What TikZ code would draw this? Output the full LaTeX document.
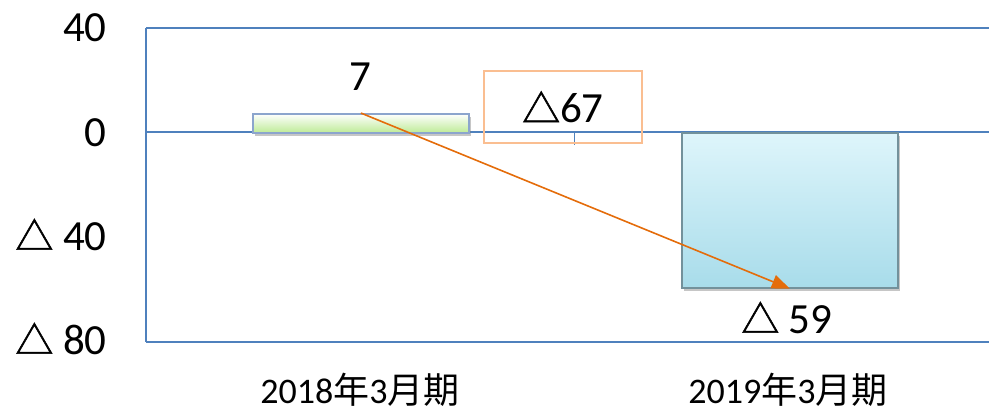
\documentclass[tikz,border=0pt]{standalone}
\usepackage{fontspec}
\setmainfont{Carlito}
\newfontfamily\cjk{Noto Sans CJK JP}
\newfontfamily\trifont[Scale=0.88,FakeBold=1.5]{Noto Sans CJK JP}
\newcommand\tri{{\trifont △}}
\usepackage{tikz}
\usetikzlibrary{positioning}
\usetikzlibrary{arrows.meta}
\usetikzlibrary{shadows}
\definecolor{gridblue}{RGB}{79,129,189}
\definecolor{arroworange}{RGB}{228,108,10}
\definecolor{boxorange}{RGB}{250,190,145}

\begin{document}
\begin{tikzpicture}
      [x=0.5pt,y=-0.5pt,
       grid/.style={gridblue,line width=1pt},
       axislabel/.style={anchor=base east,font=\fontsize{21.5}{24}\selectfont,inner sep=0pt},
       catlabel/.style={anchor=base,font=\fontsize{18}{20}\selectfont,inner sep=0pt},
       vallabel/.style={anchor=base,font=\fontsize{21.5}{24}\selectfont,inner sep=0pt},
       bar/.style={minimum width=108pt,inner sep=0pt,anchor=north west,
                   drop shadow={shadow xshift=1.2pt,shadow yshift=-1.8pt,opacity=0.45}}]
    \useasboundingbox (0,0) rectangle (989,409);
    % grid and axis
    \draw [grid] (146,28) -- (989,28);
    \draw [grid] (146,132) -- (989,132);
    \draw [grid] (146,342) -- (989,342);
    \draw [grid,line width=0.7pt] (146,28) -- (146,342);
    \draw [grid,line width=0.5pt] (574,132) -- (574,145);
    \node[axislabel] (y40)  at (107,41)  {40};
    \node[axislabel] (y0)   at (107,146) {0};
    \node[axislabel] (ym40) at (107,250) {\tri\ 40};
    \node[axislabel] (ym80) at (107,354) {\tri\ 80};
    % bars
    \node[bar,minimum height=9.5pt,draw={rgb,255:red,140;green,165;blue,205},line width=0.8pt,
          top color=white,bottom color={rgb,255:red,190;green,235;blue,150}]
          (bar1) at (252,113) {};
    \node[bar,minimum height=77.5pt,draw={rgb,255:red,115;green,145;blue,155},line width=0.8pt,
          top color={rgb,255:red,222;green,245;blue,251},bottom color={rgb,255:red,168;green,220;blue,234}]
          (bar2) at (681,132) {};
    % labels
    \node[vallabel] (v1) at (360,90) {7};
    \node[vallabel] (v2) at (787,333) {\tri\ 59};
    \node[draw=boxorange,line width=0.7pt,minimum width=79pt,minimum height=36pt,inner sep=0pt,
          font=\fontsize{21.5}{24}\selectfont] (diff) at (563,107) {\tri 67};
    \node[catlabel] (c1) at (360,403) {2018{\cjk 年}3{\cjk 月期}};
    \node[catlabel] (c2) at (788,403) {2019{\cjk 年}3{\cjk 月期}};

    \path [-{Triangle[length=9pt,width=7pt]},arroworange,line width=0.8pt]
          (bar1.north) edge (bar2.south);
    \end{tikzpicture}
\end{document}
